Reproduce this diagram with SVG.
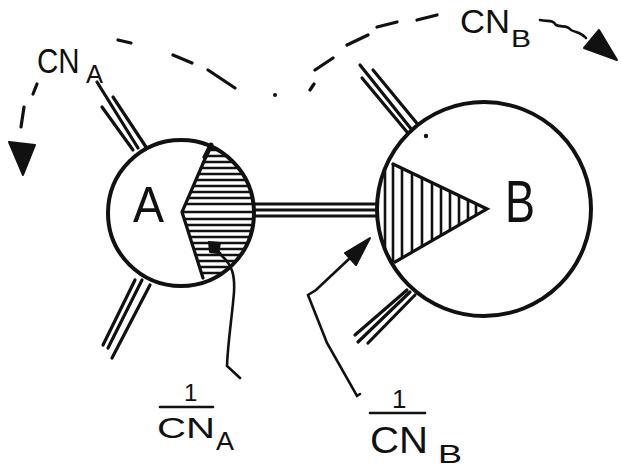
<svg xmlns="http://www.w3.org/2000/svg" width="621" height="467" viewBox="0 0 621 467">
<defs>
<style>
.ln{stroke:#111;stroke-width:3.2;stroke-linecap:round;fill:none}
.thin{stroke:#111;stroke-width:2.6;stroke-linecap:round;fill:none}
.circ{stroke:#111;stroke-width:4;fill:#fff}
.hatch{stroke:#111;stroke-width:2.6}
.txt{font-family:"Liberation Sans","DejaVu Sans",sans-serif;fill:#111}
.fill{fill:#111;stroke:#111;stroke-width:2;stroke-linejoin:round}
</style>
<clipPath id="clipA"><path d="M208,147 L182,212 L203,279 L262,279 L262,140 L210,140 Z"/></clipPath>
<clipPath id="circA"><circle cx="181" cy="213" r="72"/></clipPath>
<clipPath id="clipB"><path d="M393,164 L487,209 L395,262 L370,262 L370,164 Z"/></clipPath>
<clipPath id="circB"><circle cx="484" cy="209" r="106"/></clipPath>
</defs>
<rect width="621" height="467" fill="#fff"/>

<g id="bonds">
<path class="ln" d="M102,107 L133,150 M97,82 L138,148 M113,97 L146,147"/>
<path class="ln" d="M135,280 L103,345 M142,280 L108,348 M150,285 L112,358"/>
<path class="ln" d="M360,65 L412,130 M362,78 L407,132 M373,70 L420,127"/>
<path class="ln" d="M355,335 L407,290 M358,342 L410,292 M368,343 L415,295"/>
<path class="ln" d="M255,204 L378,204 M255,210 L378,210 M255,216 L378,216"/>
</g>

<g id="nodeA">
<circle class="circ" cx="181" cy="213" r="73"/>
<g clip-path="url(#circA)"><g clip-path="url(#clipA)">
<path class="hatch" d="M175,150 H262 M175,156 H262 M175,162 H262 M175,168 H262 M175,174 H262 M175,180 H262 M175,186 H262 M175,192 H262 M175,198 H262 M175,204 H262 M175,212 H262 M175,219 H262 M175,225 H262 M175,231 H262 M175,237 H262 M175,243 H262 M175,249 H262 M175,255 H262 M175,261 H262 M175,267 H262 M175,273 H262"/>
</g></g>
<path class="ln" d="M208,152 L182,212 L203,278"/>
<path class="ln" style="stroke-width:5" d="M205,157 L211,145"/>
<text class="txt" x="133" y="222" font-size="50" textLength="31" lengthAdjust="spacingAndGlyphs">A</text>
</g>

<g id="nodeB">
<circle class="circ" cx="484" cy="209" r="107"/>
<g clip-path="url(#circB)"><g clip-path="url(#clipB)">
<path class="hatch" d="M385,160 V265 M393,160 V265 M402,160 V265 M412,160 V265 M422,160 V265 M432,160 V265 M441,160 V265 M450,160 V265 M459,160 V265 M468,160 V265 M476,160 V265"/>
</g></g>
<path class="ln" d="M393,164 L487,209 L395,262"/>
<circle cx="426" cy="136" r="2.2" fill="#111"/>
<text class="txt" x="505" y="222" font-size="60" textLength="30" lengthAdjust="spacingAndGlyphs">B</text>
</g>

<g id="connectors">
<path class="ln" d="M118,40 L131,43 M173,55 L192,63 M208,70 L235,88 M310,90 L314,84 M315,70 L333,58 M347,45 L368,35 M377,27 L397,22 M417,20 L437,15"/>
<circle cx="275" cy="95" r="2" fill="#111"/>
<path class="ln" d="M37,84 L33,94 M24,107 L21,127"/>
<path class="fill" d="M9,142 L35,145 L23,175 Z"/>
<path class="thin" d="M540,20 C548,22 552,19 556,25 C562,28 566,24 571,30 C576,33 580,31 586,38"/>
<path class="fill" d="M599,30 L584,48 L617,60 Z"/>
<path class="thin" d="M240,378 L227,366 C228,340 232,318 234,292 C235,275 232,265 222,256 L216,248"/>
<path class="fill" d="M209,242 L220,243 L218,253 L210,252 Z"/>
<path class="thin" d="M360,394 L357,396 L327,343 L308,295 L316,290 L350,258"/>
<path class="fill" d="M345,253 L370,238 L356,265 Z"/>
</g>

<g id="labels">
<text class="txt" transform="translate(37,73) scale(0.82,1)" font-size="36">CN</text>
<text class="txt" x="86" y="83" font-size="25" textLength="17" lengthAdjust="spacingAndGlyphs">A</text>
<text class="txt" x="460" y="33" font-size="34" textLength="50" lengthAdjust="spacingAndGlyphs">CN</text>
<text class="txt" x="511" y="47" font-size="23" textLength="20" lengthAdjust="spacingAndGlyphs">B</text>
<text class="txt" x="184" y="401" font-size="24">1</text>
<path class="thin" d="M160,407 L213,407"/>
<text class="txt" x="157" y="438" font-size="30" textLength="58" lengthAdjust="spacingAndGlyphs">CN</text>
<text class="txt" x="216" y="450" font-size="26" textLength="18" lengthAdjust="spacingAndGlyphs">A</text>
<text class="txt" x="392" y="408" font-size="26">1</text>
<path class="thin" d="M370,413 L425,413"/>
<text class="txt" x="370" y="453" font-size="36" textLength="58" lengthAdjust="spacingAndGlyphs">CN</text>
<text class="txt" x="438" y="463" font-size="25" textLength="24" lengthAdjust="spacingAndGlyphs">B</text>
</g>
</svg>
